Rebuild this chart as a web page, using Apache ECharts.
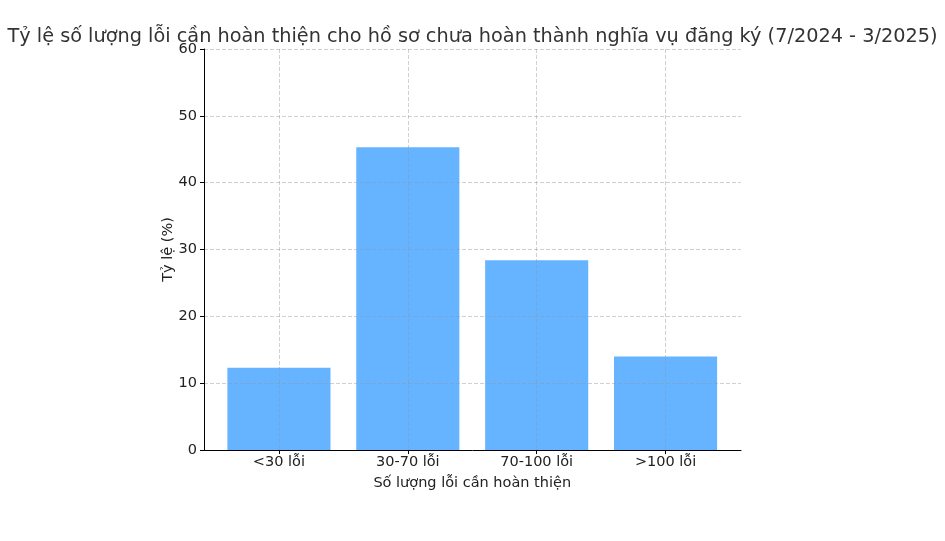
<!DOCTYPE html>
<html><head><meta charset="utf-8">
<script src="https://cdn.jsdelivr.net/npm/echarts@6/dist/echarts.min.js"></script>
<style>html,body{margin:0;padding:0;background:#fff}#c{width:945px;height:541px}</style>
</head><body><div id="c"></div>
<script>
const categories = ['<30 lỗi', '30-70 lỗi', '70-100 lỗi', '>100 lỗi'];
const values = [12.3, 45.3, 28.4, 14.0];
const titleText = 'Tỷ lệ số lượng lỗi cần hoàn thiện cho hồ sơ chưa hoàn thành nghĩa vụ đăng ký (7/2024 - 3/2025)';
const xName = 'Số lượng lỗi cần hoàn thiện';
const yName = 'Tỷ lệ (%)';

const font = 'DejaVu Sans';
const gridColor = 'rgba(150,150,150,0.45)';
const chart = echarts.init(document.getElementById('c'));
chart.setOption({
  animation: false,
  textStyle: { fontFamily: font },
  title: { text: titleText, left: 'center', top: 22, textStyle: { fontFamily: font, fontSize: 19.3, fontWeight: 'normal', color: '#333' } },
  grid: [
    { left: 204, right: 204, top: 49, bottom: 91 },
    { left: 214.5, right: 215, top: 49, bottom: 91 }
  ],
  xAxis: [
    {
      gridIndex: 0, type: 'value', min: 0, max: 1, z: 4,
      axisLine: { show: true, onZero: false, lineStyle: { color: '#000', width: 1 } },
      axisTick: { show: false }, axisLabel: { show: false }, splitLine: { show: false }
    },
    {
      gridIndex: 1, type: 'category', data: categories, z: 4,
      name: xName, nameLocation: 'middle', nameGap: 26,
      nameTextStyle: { fontFamily: font, fontSize: 14.5, color: '#222' },
      axisLine: { show: false },
      axisTick: { show: true, alignWithLabel: true, length: 4, lineStyle: { color: '#000' } },
      axisLabel: { fontFamily: font, fontSize: 14.5, color: '#222', margin: 5 },
      splitLine: { show: true, alignWithLabel: true, lineStyle: { color: gridColor, type: 'dashed', width: 1 } }
    }
  ],
  yAxis: [
    {
      gridIndex: 0, type: 'value', min: 0, max: 60, interval: 10, z: 4,
      name: yName, nameLocation: 'middle', nameGap: 28, nameRotate: 90, nameMoveOverlap: false,
      nameTextStyle: { fontFamily: font, fontSize: 14.5, color: '#222' },
      axisLine: { show: true, lineStyle: { color: '#000', width: 1 } },
      axisTick: { show: true, length: 4, lineStyle: { color: '#000' } },
      axisLabel: { fontFamily: font, fontSize: 14.5, color: '#222', margin: 7 },
      splitLine: { show: true, lineStyle: { color: gridColor, type: 'dashed', width: 1 } }
    },
    {
      gridIndex: 1, type: 'value', min: 0, max: 60, interval: 10, show: false
    }
  ],
  series: [{
    type: 'bar', xAxisIndex: 1, yAxisIndex: 1, data: values, barWidth: '80%',
    itemStyle: { color: '#66b3ff' }
  }]
});
</script></body></html>
